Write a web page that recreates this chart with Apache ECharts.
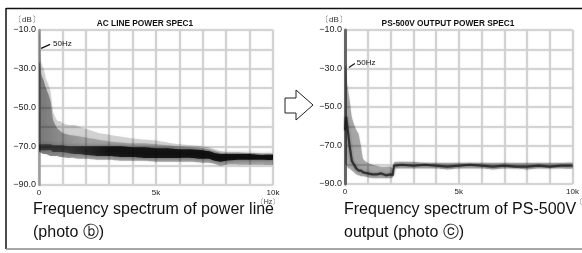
<!DOCTYPE html>
<html><head><meta charset="utf-8">
<script src="https://cdn.jsdelivr.net/npm/echarts@6/dist/echarts.min.js"></script>
<style>html,body{margin:0;padding:0;background:#fff}#c{width:582px;height:253px}</style>
</head><body><div id="c"></div>
<script>
// ---- Left panel: AC line power spectrum (Hz, dB) ----
const freqL   = [0,50,100,200,300,400,500,600,700,800,900,1000,1250,1500,1750,2000,2500,3000,3500,4000,4500,5000,5500,6000,6500,7000,7250,7500,7750,8000,8500,9000,9500,10000];
const upperL  = [-13,-10,-27,-30,-35,-38,-42,-52,-55,-57,-57,-58,-59,-59,-60,-61,-63,-64,-65,-66,-66.5,-67,-68,-69,-69.5,-70,-70.5,-71.5,-72.5,-73,-73,-73.5,-73.5,-74];
const midTopL = [-28,-26,-33,-36,-40,-43,-47,-56,-59,-61,-62,-63,-64,-64.5,-65,-65.5,-66.5,-67.5,-68,-68.5,-68.5,-69,-69.5,-70,-70.5,-71,-71.5,-72.5,-73.5,-73.5,-73.5,-73.5,-74,-74];
const lowerL  = [-73,-73,-73.5,-74,-74,-74.5,-75,-75,-75,-75,-75.5,-75.5,-76,-76,-76.5,-76.5,-77,-77,-77.5,-77.5,-77.5,-78,-78,-78,-78,-78.5,-78.5,-79,-80,-79.5,-79.5,-79.5,-79.5,-79.5];
const coreTopL= [-69,-69,-69,-69,-69,-69,-69,-69.5,-69.5,-69.5,-69.5,-69.5,-70,-70,-70,-70,-70,-70,-70,-70.5,-70.5,-71,-71,-71.5,-71.5,-72,-72.5,-73.5,-74,-74,-74,-74,-74.5,-74.5];
const coreBotL= [-72,-72,-72,-72,-72,-72,-72,-73,-73,-73,-73,-73,-73.5,-74,-74,-74.5,-75,-75,-75.5,-75.5,-76,-76,-76,-76,-76,-76.5,-76.5,-77.5,-78,-77.5,-77,-77,-77,-77];

// ---- Right panel: PS-500V output power spectrum ----
const freqR   = [0,50,100,150,200,300,400,500,600,700,800,1000,1200,1400,1600,1800,2000,2100,2150,2200,2500,3000,3500,4000,4500,5000,5500,6000,6500,7000,7500,8000,8500,9000,9500,10000];
const upperR  = [-30,-28,-38,-42,-46,-55,-59,-62,-64,-70,-77,-79,-80,-80.5,-81,-81,-81,-82,-79,-78.5,-78.5,-78.5,-79,-79,-79,-79,-79,-79,-79,-79,-79,-79,-79,-79,-79,-79];
const lowerR  = [-80,-80,-81,-82,-82,-83,-84,-85,-85.5,-86,-86,-86.5,-87,-87,-87,-87,-87,-86.5,-83,-82,-82,-82,-82,-82,-82.5,-82,-82,-82,-82.5,-82,-82,-82.5,-82,-82,-82,-82];
const traceR  = [-62,-55,-60,-65,-70,-78,-80,-82,-83,-83,-84,-84.5,-85,-85,-84.5,-85.5,-85,-85.5,-80.5,-80,-80,-80.5,-80,-80.5,-81,-80.5,-80,-80.5,-81,-80.5,-81,-81,-80.5,-81,-80.5,-80.5];

const yTicks = [-10,-30,-50,-70,-90];
const xTickLabels = {0:'0',5000:'5k',10000:'10k'};

const FONT = 'Liberation Sans, Arial, Helvetica, sans-serif';
const chart = echarts.init(document.getElementById('c'), null, {renderer:'canvas'});

function pairs(xs,ys){return xs.map((x,i)=>[x,ys[i]]);}
function band(g, xs, top, bot, fill, shadow, blur){
  return {type:'custom', xAxisIndex:g, yAxisIndex:g, silent:true, z:2, clip:true,
    data: xs.map((x,i)=>[x, top[i], bot[i]]),
    encode:{x:0, y:[1,2]},
    renderItem:(params, api)=>{
      if(params.dataIndex!==0) return null;
      const pts=[];
      for(let i=0;i<xs.length;i++) pts.push(api.coord([xs[i], top[i]]));
      for(let i=xs.length-1;i>=0;i--) pts.push(api.coord([xs[i], bot[i]]));
      return {type:'polygon', shape:{points:pts, smooth:0.15},
        style:{fill:fill, shadowBlur:blur, shadowColor:shadow}};
    }};
}
function xAx(g){
  return {type:'value', gridIndex:g, min:0, max:10000, interval:1000,
    axisLine:{show:false}, axisTick:{show:false},
    splitLine:{show:true, lineStyle:{color:'#cdcdcd', width:1.6, shadowBlur:2, shadowColor:'#d8d8d8'}},
    axisLabel:{show:true, margin:4, fontSize:8, color:'#222', fontFamily:FONT,
      formatter:v=>xTickLabels[v]!==undefined?xTickLabels[v]:''}};
}
function yAx(g, axColor, w){
  return {type:'value', gridIndex:g, min:-90, max:-10, interval:10,
    axisLine:{show:true, onZero:false, lineStyle:{color:axColor, width:w}}, axisTick:{show:false},
    splitLine:{show:true, lineStyle:{color:'#cdcdcd', width:1.6, shadowBlur:2, shadowColor:'#d8d8d8'}},
    axisLabel:{show:true, margin:3, fontSize:9, color:'#222', fontFamily:FONT,
      formatter:v=>yTicks.indexOf(v)>=0?'\u2212'+Math.abs(v).toFixed(1):''}};
}
const LG = echarts.graphic.LinearGradient;
const midFill = new LG(0,0,1,0,[{offset:0,color:'rgba(0,0,0,0.38)'},{offset:0.08,color:'rgba(0,0,0,0.3)'},{offset:0.2,color:'rgba(0,0,0,0.2)'},{offset:1,color:'rgba(0,0,0,0.2)'}]);
const coreFill = new LG(0,0,1,0,[{offset:0,color:'rgba(0,0,0,0.45)'},{offset:0.12,color:'rgba(0,0,0,0.5)'},{offset:0.3,color:'rgba(0,0,0,0.78)'},{offset:1,color:'rgba(0,0,0,0.85)'}]);

const series = [
  band(0, freqL, upperL, lowerL, 'rgba(0,0,0,0.16)', 'rgba(0,0,0,0.16)', 4),
  band(0, freqL, midTopL, lowerL, midFill, 'rgba(0,0,0,0.2)', 3),
  band(0, freqL, coreTopL, coreBotL, coreFill, 'rgba(0,0,0,0.6)', 4),
  band(1, freqR, upperR, lowerR, 'rgba(0,0,0,0.3)', 'rgba(0,0,0,0.25)', 3),
  {type:'line', xAxisIndex:1, yAxisIndex:1, data:pairs(freqR,traceR), symbol:'none', silent:true, z:3,
    lineStyle:{color:'rgba(30,30,30,0.8)', width:2.2, shadowBlur:3, shadowColor:'rgba(0,0,0,0.5)'}}
];

chart.setOption({
  animation:false,
  backgroundColor:'#fff',
  grid:[{left:39, top:30, width:234, height:155},
        {left:345, top:30, width:233, height:154}],
  xAxis:[xAx(0), xAx(1)],
  yAxis:[yAx(0,'#9a9a9a',2.5), yAx(1,'#666',3)],
  series:series
});

const pL = chart.convertToPixel({gridIndex:0},[90,-19.5]);
const pR = chart.convertToPixel({gridIndex:1},[170,-29.5]);
function txt(t,x,y,size,opts){
  return {type:'text', silent:true, z:10, style:{text:t, x:x, y:y, font:(opts&&opts.weight||'normal')+' '+size+'px '+FONT,
    fill:(opts&&opts.fill)||'#111', textAlign:(opts&&opts.align)||'left', textVerticalAlign:'middle'}};
}
chart.setOption({graphic:[
  {type:'line', shape:{x1:6,y1:8.5,x2:582,y2:8.5}, style:{stroke:'#111', lineWidth:1.5}, silent:true},
  {type:'line', shape:{x1:6,y1:8,x2:6,y2:249}, style:{stroke:'#111', lineWidth:1.5}, silent:true},
  {type:'line', shape:{x1:6,y1:249,x2:582,y2:249}, style:{stroke:'#888', lineWidth:1.5}, silent:true},
  {type:'polygon', shape:{points:[[285,98],[296,98],[296,90],[313,105],[296,120],[296,113],[285,113]]},
   style:{fill:'#fff', stroke:'#222', lineWidth:1}, silent:true},
  txt('AC LINE POWER SPEC1',145,24,8.3,{weight:'bold',align:'center'}),
  txt('PS-500V OUTPUT POWER SPEC1',448,24,8.3,{weight:'bold',align:'center'}),
  txt('\u3014dB\u3015',27,20,8,{align:'center',fill:'#333'}),
  txt('\u3014dB\u3015',334,20,8,{align:'center',fill:'#333'}),
  txt('\u3014Hz\u3015',268,202,7,{align:'center',fill:'#333'}),
  txt('\u3014Hz\u3015',576,202,7,{align:'left',fill:'#333'}),
  {type:'line', shape:{x1:pL[0],y1:pL[1],x2:pL[0]+9,y2:pL[1]-4}, style:{stroke:'#111', lineWidth:1.2}, silent:true},
  txt('50Hz',pL[0]+12,pL[1]-5,8,{}),
  {type:'line', shape:{x1:pR[0],y1:pR[1],x2:pR[0]+6,y2:pR[1]-4}, style:{stroke:'#111', lineWidth:1.2}, silent:true},
  txt('50Hz',pR[0]+8,pR[1]-5,8,{}),
  txt('Frequency spectrum of power line',33,210,16,{}),
  txt('(photo \u24D1)',33,233,16,{}),
  txt('Frequency spectrum of PS-500V',344,210,16,{}),
  txt('output (photo \u24D2)',344,233,16,{})
]});
</script></body></html>
